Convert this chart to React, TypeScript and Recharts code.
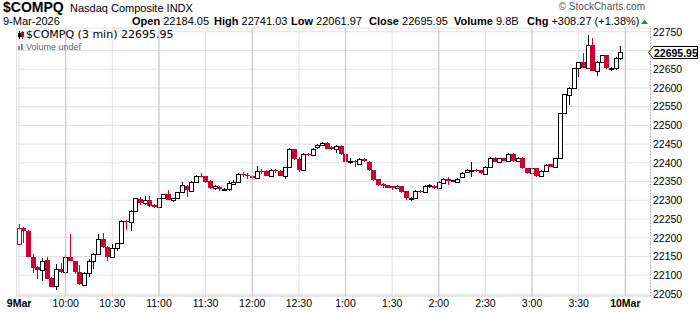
import { ComposedChart, Bar, XAxis, YAxis, CartesianGrid, ReferenceLine } from "recharts";

const RED = "#cc0033";
const FONT = "'Liberation Sans', Arial, sans-serif";

// 3-minute candles, 9:30 -> 15:57 (index 0..129)
const sessionTicks = [0, 10, 20, 30, 40, 50, 60, 70, 80, 90, 100, 110, 120, 130];
const sessionLabels = ["9Mar", "10:00", "10:30", "11:00", "11:30", "12:00", "12:30", "1:00", "1:30", "2:00", "2:30", "3:00", "3:30", "10Mar"];
const hourTicks = [10, 30, 50, 70, 90, 110, 130];
const priceTicks = [22050, 22100, 22150, 22200, 22250, 22300, 22350, 22400, 22450, 22500, 22550, 22600, 22650, 22700, 22750];
const prevDayClose = 22387.68;

const opens = [
  22184.05, 22225, 22218, 22150, 22121, 22113, 22140, 22092, 22071, 22118,
  22108, 22150, 22137, 22108, 22075, 22105, 22139, 22158, 22198, 22175,
  22150, 22174, 22185, 22245, 22241, 22271, 22304, 22294, 22300, 22288,
  22283, 22305, 22316, 22302, 22307, 22322, 22339, 22326, 22348, 22366,
  22364, 22351, 22332, 22336, 22328, 22331, 22344, 22348, 22371, 22368,
  22365, 22360, 22379, 22377, 22366, 22381, 22379, 22364, 22390, 22437,
  22411, 22382, 22424, 22420, 22441, 22447, 22454, 22442, 22436, 22445,
  22424, 22404, 22406, 22398, 22410, 22403, 22381, 22356, 22343, 22340,
  22337, 22332, 22337, 22324, 22305, 22306, 22326, 22322, 22337, 22339,
  22334, 22347, 22358, 22351, 22350, 22363, 22376, 22380, 22382, 22380,
  22370, 22390, 22414, 22403, 22412, 22405, 22423, 22405, 22414, 22385,
  22374, 22385, 22366, 22379, 22396, 22390, 22412, 22534, 22581, 22600,
  22652, 22668, 22654, 22714, 22646, 22670, 22687, 22652, 22654, 22681,
];
const highs = [
  22236, 22228, 22222, 22158, 22124, 22147, 22150, 22095, 22130, 22132,
  22153, 22210, 22139, 22127, 22108, 22143, 22160, 22210, 22212, 22177,
  22183, 22187, 22247, 22247, 22273, 22307, 22310, 22311, 22311, 22290,
  22307, 22318, 22327, 22307, 22323, 22350, 22340, 22351, 22368, 22372,
  22366, 22353, 22341, 22338, 22333, 22352, 22354, 22372, 22376, 22372,
  22368, 22391, 22383, 22381, 22384, 22384, 22382, 22390, 22439, 22438,
  22415, 22425, 22426, 22440, 22450, 22456, 22456, 22445, 22447, 22447,
  22426, 22412, 22408, 22412, 22412, 22405, 22382, 22357, 22345, 22341,
  22338, 22341, 22339, 22325, 22309, 22327, 22327, 22340, 22343, 22341,
  22352, 22360, 22363, 22355, 22360, 22376, 22383, 22401, 22384, 22382,
  22392, 22416, 22416, 22414, 22414, 22425, 22425, 22416, 22416, 22387,
  22387, 22387, 22381, 22396, 22398, 22414, 22534, 22585, 22603, 22654,
  22670, 22692, 22741.03, 22732, 22672, 22689, 22689, 22656, 22683, 22712,
];
const lows = [
  22182, 22186, 22148, 22107, 22089, 22086, 22089, 22068, 22061.97, 22105,
  22104, 22137, 22103, 22073, 22073, 22096, 22118, 22155, 22172, 22139,
  22148, 22165, 22183, 22220, 22219, 22268, 22287, 22288, 22283, 22280,
  22281, 22303, 22300, 22295, 22305, 22320, 22310, 22322, 22346, 22362,
  22347, 22330, 22327, 22325, 22326, 22326, 22340, 22346, 22362, 22358,
  22353, 22358, 22371, 22364, 22362, 22372, 22364, 22358, 22388, 22408,
  22376, 22380, 22418, 22418, 22437, 22445, 22436, 22434, 22427, 22421,
  22401, 22398, 22388, 22395, 22402, 22378, 22352, 22337, 22333, 22332,
  22327, 22330, 22320, 22302, 22299, 22304, 22320, 22320, 22333, 22331,
  22332, 22345, 22341, 22349, 22348, 22360, 22372, 22361, 22376, 22370,
  22368, 22388, 22401, 22401, 22404, 22403, 22403, 22403, 22383, 22370,
  22372, 22363, 22364, 22377, 22388, 22388, 22410, 22532, 22554, 22598,
  22630, 22652, 22652, 22644, 22632, 22668, 22650, 22645, 22647, 22674,
];
const closes = [
  22225, 22217, 22150, 22120, 22113, 22138, 22091, 22070, 22118, 22110,
  22150, 22139, 22108, 22076, 22105, 22139, 22158, 22198, 22175, 22150,
  22174, 22185, 22245, 22241, 22271, 22305, 22293, 22300, 22286, 22283,
  22305, 22316, 22302, 22306, 22321, 22341, 22327, 22349, 22366, 22364,
  22350, 22332, 22337, 22329, 22331, 22346, 22350, 22370, 22367, 22364,
  22360, 22379, 22375, 22366, 22381, 22377, 22366, 22388, 22437, 22410,
  22382, 22423, 22420, 22438, 22447, 22454, 22438, 22437, 22445, 22423,
  22403, 22405, 22401, 22410, 22404, 22380, 22355, 22342, 22338, 22334,
  22333, 22339, 22323, 22305, 22306, 22325, 22322, 22338, 22340, 22333,
  22350, 22358, 22351, 22353, 22358, 22374, 22380, 22381, 22378, 22372,
  22390, 22414, 22403, 22412, 22406, 22423, 22405, 22414, 22385, 22372,
  22385, 22365, 22379, 22394, 22390, 22412, 22532, 22583, 22601, 22652,
  22668, 22654, 22714, 22646, 22670, 22687, 22652, 22654, 22681, 22695.95,
];

const stats = [
  { label: "Open", value: "22184.05", x: 132 },
  { label: "High", value: "22741.03", x: 214 },
  { label: "Low", value: "22061.97", x: 291 },
  { label: "Close", value: "22695.95", x: 369 },
  { label: "Volume", value: "9.8B", x: 454 },
  { label: "Chg", value: "+308.27 (+1.38%)", x: 527 },
];

const lastClose = closes[closes.length - 1];

const data = opens.map((open, i) => ({
  i,
  open,
  high: highs[i],
  low: lows[i],
  close: closes[i],
  prev: i === 0 ? prevDayClose : closes[i - 1],
}));

// stockcharts style: hollow when close >= open, red when close < previous close
const Candle = (props: any) => {
  const { x, y, width, height, payload } = props;
  const { open, high, low, close, prev } = payload;
  const toY = (v: number) => y + ((high - v) / (high - low)) * height;
  const cx = Math.round(x + width / 2);
  const color = close >= prev ? "#000" : RED;
  const top = Math.round(toY(Math.max(open, close)));
  const bot = Math.round(toY(Math.min(open, close)));
  const h = Math.max(bot - top, 1);
  return (
    <g>
      <line x1={cx + 0.5} x2={cx + 0.5} y1={Math.round(y)} y2={Math.round(y + height)} stroke={color} strokeWidth={1} />
      {close >= open ? (
        <rect x={cx - 1.5} y={top + 0.5} width={4} height={h} fill="#fff" stroke={color} strokeWidth={1} />
      ) : (
        <rect x={cx - 2} y={top} width={5} height={h} fill={color} />
      )}
    </g>
  );
};

const TimeTick = ({ x, y, payload }: any) => {
  const label = sessionLabels[sessionTicks.indexOf(payload.value)];
  const bold = label.includes("Mar");
  return (
    <text x={x} y={y} dy={11} textAnchor="middle" fontSize={10.5} fontFamily={FONT} fontWeight={bold ? "bold" : "normal"} fill="#000">
      {label}
    </text>
  );
};

const PriceTick = ({ x, y, payload }: any) => {
  if (Math.abs(payload.value - lastClose) < 12) return <g />;
  return (
    <text x={x} y={y} dy={3.8} fontSize={10.5} fontFamily={FONT} fill="#000">
      {payload.value}
    </text>
  );
};

const PriceTag = ({ viewBox }: any) => {
  const x0 = viewBox.x + viewBox.width;
  const y0 = Math.round(viewBox.y) + 0.5;
  return (
    <g>
      <polygon
        points={`${x0 - 2},${y0} ${x0 + 3},${y0 - 6} ${x0 + 47},${y0 - 6} ${x0 + 47},${y0 + 6} ${x0 + 3},${y0 + 6}`}
        fill="#fff"
        stroke="#000"
      />
      <text x={x0 + 3.5} y={y0 + 4} fontSize={10.5} fontWeight="bold" fontFamily={FONT} fill="#000">
        {lastClose.toFixed(2)}
      </text>
    </g>
  );
};

export default function App() {
  return (
    <div style={{ position: "absolute", left: 0, top: 0, width: 700, height: 312, background: "#fff" }}>
      <ComposedChart width={700} height={312} data={data} margin={{ top: 28, right: 0, bottom: 0, left: 16.5 }}>
        <CartesianGrid stroke="#e3e3e3" />
        {hourTicks.map((t) => (
          <ReferenceLine key={t} x={t} stroke="#c6c6c6" />
        ))}
        <XAxis
          type="number"
          dataKey="i"
          domain={[-0.55, 135.4]}
          ticks={sessionTicks}
          interval={0}
          allowDataOverflow
          height={16}
          tickLine={false}
          tickSize={0}
          tickMargin={0}
          axisLine={{ stroke: "#a8a8a8", strokeDasharray: "1 2" }}
          tick={<TimeTick />}
        />
        <XAxis xAxisId="top" orientation="top" type="number" domain={[0, 1]} height={0} tick={false} tickLine={false} axisLine={{ stroke: "#c0c0c0" }} />
        <YAxis
          orientation="right"
          type="number"
          domain={[22044.7, 22759.9]}
          ticks={priceTicks}
          interval={0}
          allowDataOverflow
          width={49.5}
          tickLine={false}
          tickSize={0}
          tickMargin={2.5}
          axisLine={{ stroke: "#a8a8a8", strokeDasharray: "1 2" }}
          tick={<PriceTick />}
        />
        <YAxis yAxisId="left" orientation="left" type="number" domain={[0, 1]} width={0} tick={false} tickLine={false} axisLine={{ stroke: "#c0c0c0" }} />
        <Bar dataKey={(d: any) => [d.low, d.high]} barSize={5} shape={<Candle />} isAnimationActive={false} />
        <ReferenceLine y={lastClose} stroke="none" label={<PriceTag />} />
      </ComposedChart>

      <svg width={700} height={312} style={{ position: "absolute", left: 0, top: 0, pointerEvents: "none" }}>
        <text x={3} y={12} fontFamily={FONT} fontSize={14} fontWeight="bold" fill="#000">$COMPQ</text>
        <text x={70} y={12} fontFamily={FONT} fontSize={11} fill="#000">Nasdaq Composite INDX</text>
        <text x={645} y={10} fontFamily={FONT} fontSize={10} fill="#555" textAnchor="end">© StockCharts.com</text>
        <text x={3} y={25} fontFamily={FONT} fontSize={11} fill="#000">9-Mar-2026</text>
        {stats.map((s) => (
          <text key={s.label} x={s.x} y={25} fontFamily={FONT} fontSize={11} fill="#000">
            <tspan fontWeight="bold">{s.label}</tspan>
            {" " + s.value}
          </text>
        ))}
        <polygon points="641,24 644.5,19.5 648,24" fill="#2e8b2e" />
        {/* legend */}
        <line x1={19.5} x2={19.5} y1={31} y2={39} stroke="#000" />
        <rect x={18} y={33} width={3} height={4} fill="#000" />
        <line x1={22.5} x2={22.5} y1={31} y2={39} stroke={RED} />
        <rect x={21} y={32} width={3} height={5} fill={RED} />
        <text x={26} y={38} fontFamily="'DejaVu Sans', Verdana, sans-serif" fontSize={11} fill="#000">$COMPQ (3 min) 22695.95</text>
        <rect x={18} y={46} width={2} height={4} fill="#888" />
        <rect x={21} y={44} width={2} height={6} fill="#888" />
        <text x={26} y={50} fontFamily={FONT} fontSize={9} fill="#666">Volume undef</text>
      </svg>
    </div>
  );
}
